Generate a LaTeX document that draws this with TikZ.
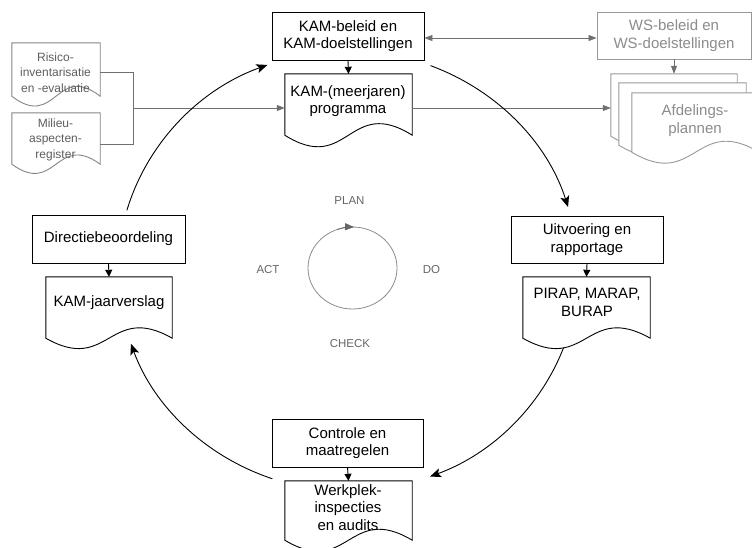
\documentclass[tikz,border=0pt]{standalone}
\usepackage{fontspec}
\setmainfont{Liberation Sans}
\usetikzlibrary{calc,arrows.meta}
\definecolor{wsg}{HTML}{8C8C8C}
\definecolor{wsline}{HTML}{999999}
\definecolor{docg}{HTML}{5E5E5E}
\definecolor{docline}{HTML}{858585}
\definecolor{lineg}{HTML}{707070}
\definecolor{pdg}{HTML}{666666}
\newcommand\fbig{\fontsize{15}{17.5}\selectfont}
\newcommand\fsml{\fontsize{12}{15.5}\selectfont}
\newcommand\fpd{\fontsize{11.5}{13}\selectfont}
\newcommand\docout[3][black]{\draw[fill=white, draw=#1, line width=0.9pt] (#2.south west) -- (#2.north west) -- (#2.north east) -- (#2.south east) .. controls ($(#2.south)+(0,-#3)$) and ($(#2.south)+(0,#3)$) .. (#2.south west) -- cycle;}
\tikzset{
  box/.style={draw, line width=0.9pt, fill=white, align=center, inner sep=0pt, font=\fbig},
  docbody/.style={draw=none, inner sep=0pt},
  txt/.style={align=center, inner sep=0pt, font=\fbig},
  stxt/.style={align=center, inner sep=0pt, font=\fsml, text=docg},
  pdtxt/.style={inner sep=0pt, font=\fpd, text=pdg},
  barrow/.style={line width=0.9pt, -{Triangle[length=7pt,width=7pt]}},
  garrow/.style={line width=0.8pt, lineg, -{Triangle[length=8pt,width=6pt]}},
  gline/.style={line width=0.8pt, lineg},
  cyc/.style={line width=0.9pt, -{Stealth[length=11pt,width=9pt,inset=2.5pt]}},
}
\begin{document}
\begin{tikzpicture}[x=1pt,y=-1pt]
\useasboundingbox (0,0) rectangle (752,547);
\clip (0,0) rectangle (752,547);
\fill[white] (0,0) rectangle (752,547);

% top KAM
\node[box, minimum width=152pt, minimum height=48pt] (kamb) at (348,36) {KAM-beleid en\\KAM-doelstellingen};
\node[docbody, minimum width=127pt, minimum height=61pt] (prog) at (348.5,104.5) {};
\docout{prog}{40}
\node[txt] (progt) at (348,101) {KAM-(meerjaren)\\programma};

% WS
\node[box, draw=wsline, text=wsg, minimum width=154pt, minimum height=47pt] (ws) at (674,35.5) {WS-beleid en\\WS-doelstellingen};
\node[docbody, minimum width=126pt, minimum height=62pt] (afd1) at (674,105) {};
\docout[wsline]{afd1}{38}
\node[docbody, minimum width=127pt, minimum height=62pt] (afd2) at (682.5,114) {};
\docout[wsline]{afd2}{38}
\node[docbody, minimum width=127pt, minimum height=59pt] (afd3) at (695.5,122.5) {};
\docout[wsline]{afd3}{38}
\node[txt, text=wsg] (afdt) at (695,120.5) {Afdelings-\\plannen};

% inputs
\node[docbody, minimum width=88pt, minimum height=53pt] (risk) at (56,69.5) {};
\docout[docline]{risk}{34}
\node[stxt] (riskt) at (55.5,72.5) {Risico-\\inventarisatie\\en -evaluatie};
\node[docbody, minimum width=88pt, minimum height=51pt] (mil) at (56,138.5) {};
\docout[docline]{mil}{32}
\node[stxt] (milt) at (55.5,139.5) {Milieu-\\aspecten-\\register};

% left
\node[box, minimum width=153pt, minimum height=48pt] (dir) at (108.5,239) {Directiebeoordeling};
\node[docbody, minimum width=126pt, minimum height=61pt] (jaar) at (109,307.5) {};
\docout{jaar}{36}
\node[txt] (jaart) at (109,303) {KAM-jaarverslag};

% right
\node[box, minimum width=152pt, minimum height=47pt] (uit) at (587,239.5) {Uitvoering en\\rapportage};
\node[docbody, minimum width=127pt, minimum height=61pt] (pirap) at (586.5,307.5) {};
\docout{pirap}{36}
\node[txt] (pirapt) at (587,302.5) {PIRAP, MARAP,\\BURAP};

% bottom
\node[box, minimum width=151pt, minimum height=48pt] (ctrl) at (347.5,443) {Controle en\\maatregelen};
\node[docbody, minimum width=127pt, minimum height=59pt] (werk) at (348.5,510.5) {};
\docout{werk}{38}
\node[txt] (werkt) at (348,507.5) {Werkplek-\\inspecties\\en audits};

% box -> doc arrows
\draw[barrow] (kamb.south) -- (prog.north);
\draw[barrow] (dir.south) -- (jaar.north);
\draw[barrow] (uit.south) -- (pirap.north);
\draw[barrow] (ctrl.south) -- (werk.north);

% gray connectors
\coordinate (j) at (133,108);
\draw[gline] ([yshift=-2.5pt]risk.east) -| (j);
\draw[gline] ([yshift=-5.5pt]mil.east) -| (j);
\draw[garrow] (j) -- (j -| prog.west);
\draw[garrow] (j -| prog.east) -- (j -| afd1.west);
\draw[gline, {Triangle[length=8pt,width=6pt]}-{Triangle[length=8pt,width=6pt]}] ([yshift=-2pt]kamb.east) -- ([yshift=-2pt]kamb.east -| ws.west);
\draw[garrow] (ws.south) -- (afd1.north);

% PDCA
\coordinate (pc) at (352.5,268);
\draw[line width=0.8pt, color=wsg] (pc) ellipse [x radius=44.5pt, y radius=41pt];
\coordinate (pa) at ($(pc)+(110:44.5pt and 41pt)$);
\draw[line width=0.8pt, color=pdg, -{Triangle[length=9pt,width=7pt]}] (pa) arc[start angle=110, end angle=88, x radius=44.5pt, y radius=41pt];
\node[pdtxt] (plan) at (349.5,200.7) {PLAN};
\node[pdtxt] (act) at (268,270) {ACT};
\node[pdtxt] (do) at (431.5,270) {DO};
\node[pdtxt] (check) at (350,344) {CHECK};

% big cycle
\coordinate (C) at (348,271);
\coordinate (a1) at ($(C)+(164:230pt and 220pt)$);
\coordinate (a2) at ($(C)+(69:230pt and 220pt)$);
\coordinate (a3) at ($(C)+(-20.4:230pt and 220pt)$);
\coordinate (a4) at ($(C)+(250.8:230pt and 220pt)$);
\draw[cyc] (a1) arc[start angle=164, end angle=110.5, x radius=230pt, y radius=220pt];
\draw[cyc] (a2) arc[start angle=69, end angle=16.9, x radius=230pt, y radius=220pt];
\draw[cyc] (a3) arc[start angle=-20.4, end angle=-69.1, x radius=230pt, y radius=220pt];
\draw[cyc] (a4) arc[start angle=250.8, end angle=199.3, x radius=230pt, y radius=220pt];
\end{tikzpicture}
\end{document}
